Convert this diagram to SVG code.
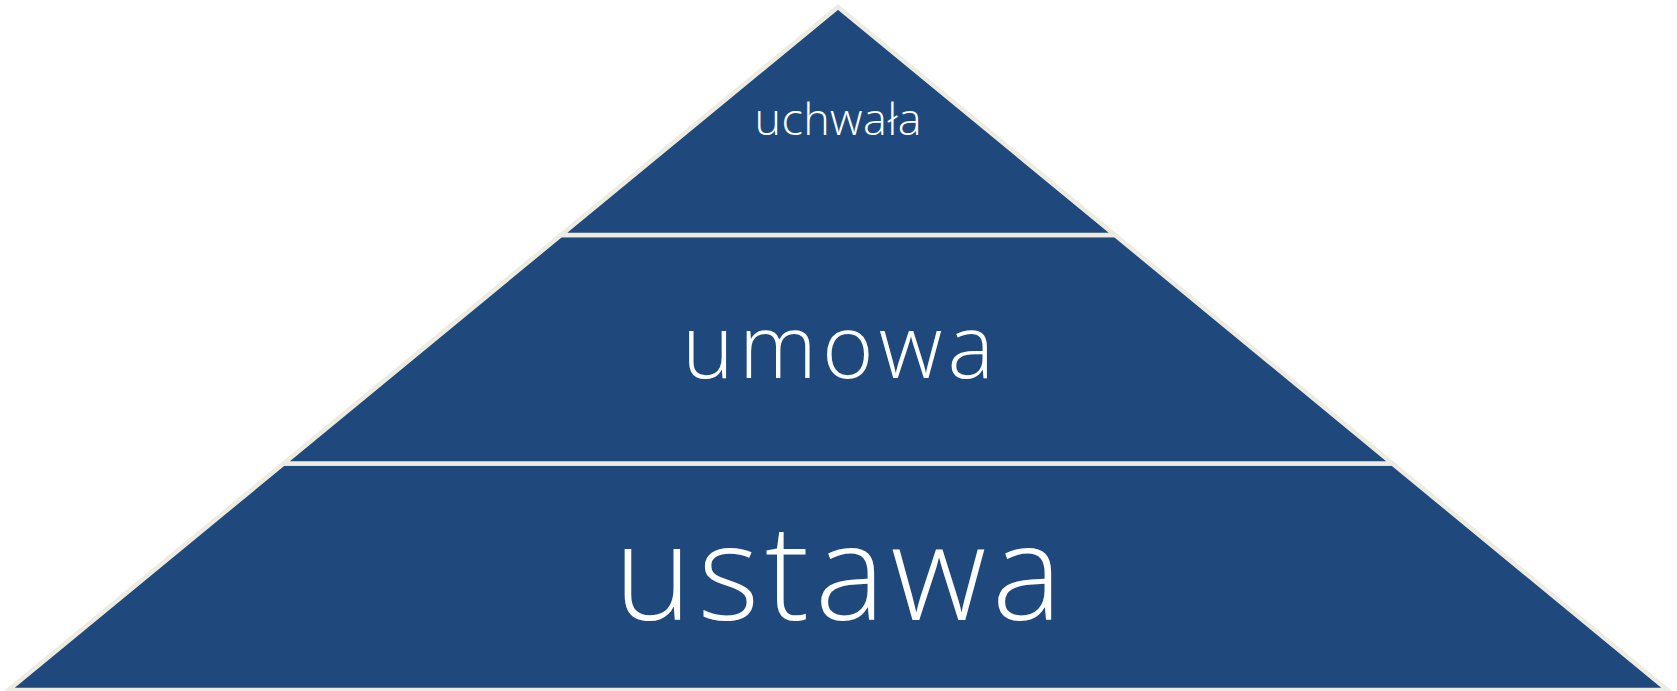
<svg xmlns="http://www.w3.org/2000/svg" width="1677" height="691" viewBox="0 0 1677 691">
  <style>
    .tier { fill: #1F497D; stroke: #EEECE1; stroke-width: 4.5; stroke-linejoin: miter; }
    .lbl { fill: #FFFFFF; font-family: "Open Sans", "Noto Sans", "DejaVu Sans", sans-serif; font-weight: 300; text-anchor: middle; }
  </style>
  <rect x="0" y="0" width="1677" height="691" fill="#FFFFFF"/>
  <g id="tier-ustawa">
    <polygon class="tier" points="283.6,463.5 1392.4,463.5 1667.5,690 8.5,690"/>
    <text class="lbl" x="838" y="620" font-size="132" textLength="448" lengthAdjust="spacing">ustawa</text>
  </g>
  <g id="tier-umowa">
    <polygon class="tier" points="561,235 1115,235 1392.4,463.5 283.6,463.5"/>
    <text class="lbl" x="838" y="377.5" font-size="88" textLength="312" lengthAdjust="spacing">umowa</text>
  </g>
  <g id="tier-uchwala">
    <polygon class="tier" points="838,7 1115,235 561,235"/>
    <text class="lbl" x="838" y="135" font-size="45" textLength="167" lengthAdjust="spacing">uchwała</text>
  </g>
  <g id="connectors"></g>
</svg>
